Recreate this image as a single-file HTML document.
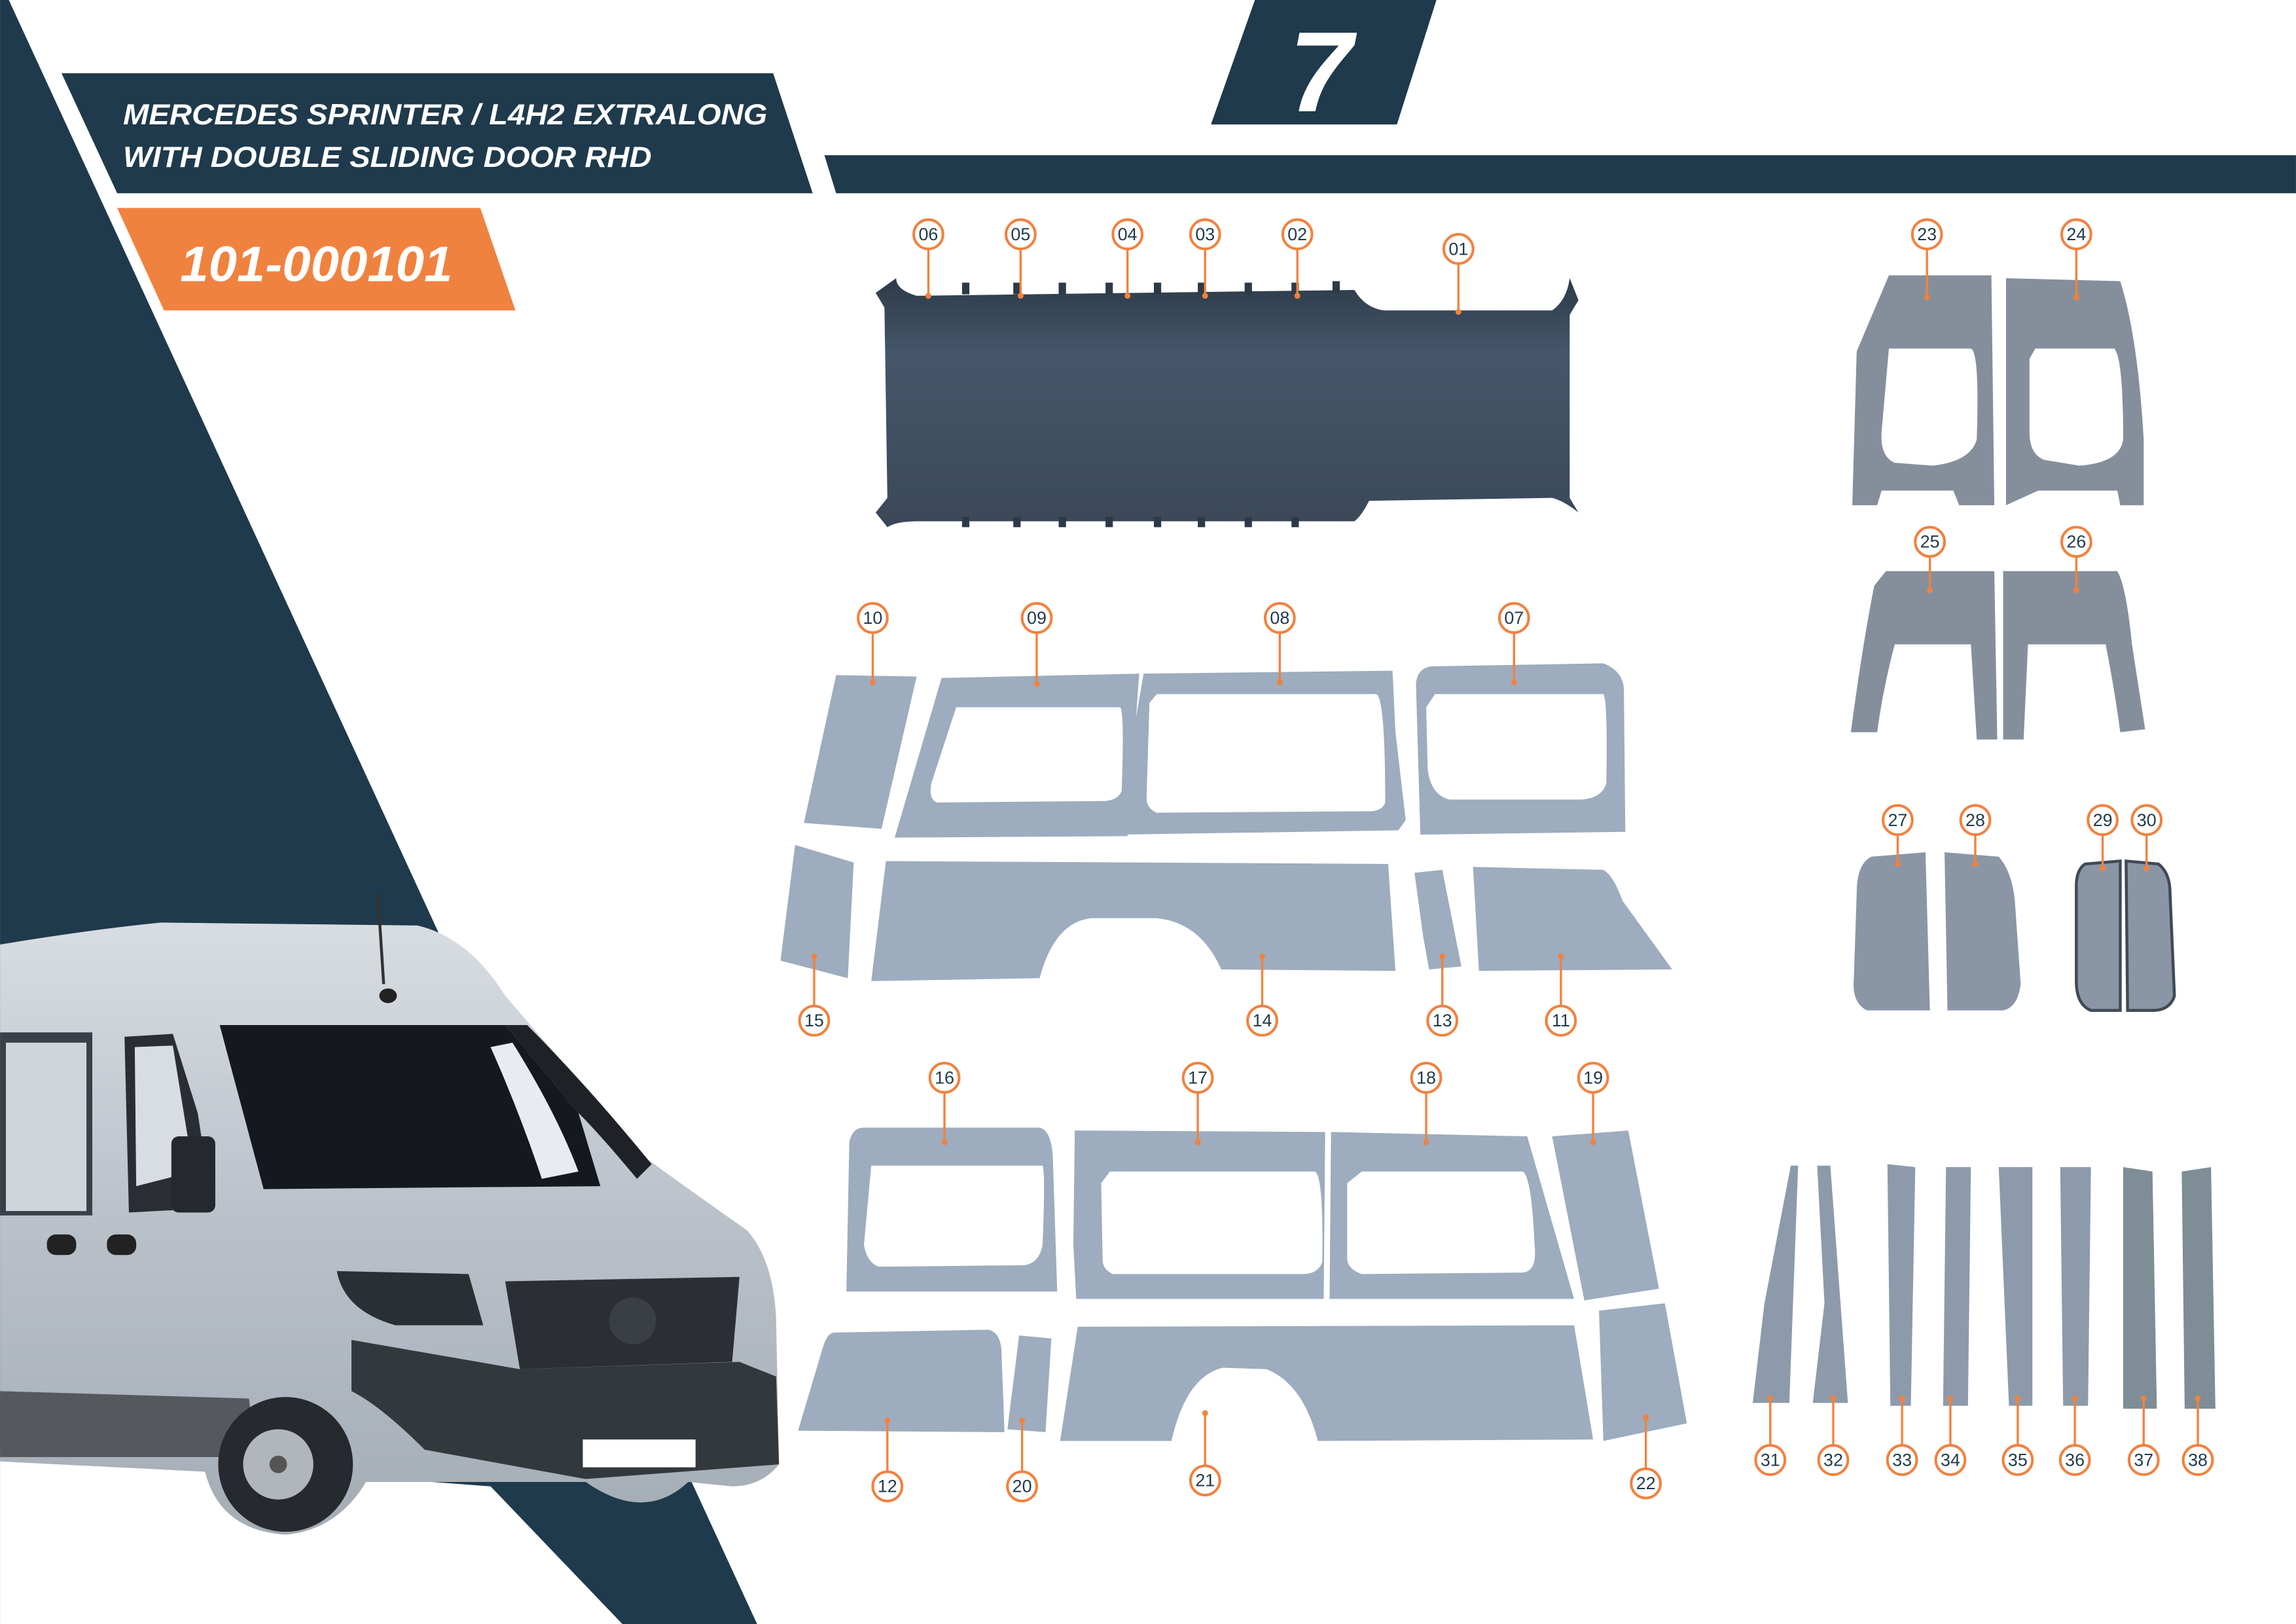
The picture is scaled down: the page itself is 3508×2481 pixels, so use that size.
<!DOCTYPE html>
<html><head><meta charset="utf-8"><style>
html,body{margin:0;padding:0;background:#fff;}
svg{display:block;}
</style></head><body>
<svg width="3508" height="2481" viewBox="0 0 1568 1109" xmlns="http://www.w3.org/2000/svg" font-family="'Liberation Sans', sans-serif">
<defs>
<linearGradient id="roof" x1="0" y1="0" x2="0" y2="1"><stop offset="0" stop-color="#2c3a48"/><stop offset="0.3" stop-color="#46566a"/><stop offset="1" stop-color="#3a4858"/></linearGradient>
<linearGradient id="silver" x1="0" y1="0" x2="0" y2="1"><stop offset="0" stop-color="#d8dde2"/><stop offset="0.5" stop-color="#b9c0c8"/><stop offset="1" stop-color="#a4acb5"/></linearGradient>
</defs>
<rect width="1568" height="1109" fill="#fff"/>
<polygon points="0,0 6,0 517,1109 0,1109" fill="#1f3a4c"/>
<polygon points="0,990 335,1015 425,1109 0,1109" fill="#fff"/>
<polygon points="42,50 528,50 555,132 80,132" fill="#1f3a4c"/>
<g fill="#fff" font-weight="bold" font-style="italic" font-size="20">
<text x="84" y="85" textLength="440" lengthAdjust="spacingAndGlyphs">MERCEDES SPRINTER / L4H2 EXTRALONG</text>
<text x="84" y="114" textLength="361" lengthAdjust="spacingAndGlyphs">WITH DOUBLE SLIDING DOOR RHD</text>
</g>
<polygon points="80,142 328,142 352,212 112,212" fill="#f08240"/>
<text x="123" y="192" fill="#fff" font-weight="bold" font-style="italic" font-size="34" textLength="186" lengthAdjust="spacingAndGlyphs">101-000101</text>
<polygon points="857,0 981,0 954,85 827,85" fill="#1f3a4c"/>
<text x="902" y="76" fill="#fff" font-weight="bold" font-style="italic" font-size="78" text-anchor="middle">7</text>
<polygon points="563,106 1568,106 1568,132 571,132" fill="#1f3a4c"/>

<path d="M612,190 Q612,198 626,202 L925,198 Q932,210 945,212 L1060,212 Q1070,205 1072,190 L1078,205 L1072,215 L1072,340 L1078,350 Q1068,342 1060,340 L935,342 Q930,352 925,356 L626,356 Q612,356 606,360 L598,350 L606,340 L604,210 L598,200 Z" fill="url(#roof)"/>
<g fill="#2c3a48">
<rect x="657" y="193" width="5" height="8"/><rect x="692" y="193" width="5" height="8"/><rect x="723" y="193" width="5" height="8"/><rect x="755" y="193" width="5" height="8"/><rect x="788" y="193" width="5" height="8"/><rect x="818" y="193" width="5" height="8"/><rect x="850" y="193" width="5" height="8"/><rect x="882" y="193" width="5" height="8"/><rect x="910" y="192" width="5" height="8"/>
<rect x="657" y="353" width="5" height="7"/><rect x="692" y="353" width="5" height="7"/><rect x="723" y="353" width="5" height="7"/><rect x="755" y="353" width="5" height="7"/><rect x="788" y="353" width="5" height="7"/><rect x="818" y="353" width="5" height="7"/><rect x="850" y="353" width="5" height="7"/><rect x="882" y="353" width="5" height="7"/>
</g>

<g fill="#858f9c">
<path fill-rule="evenodd" d="M1290,188 L1360,188 L1362,345 L1338,345 L1334,335 L1285,335 L1282,345 L1265,345 L1268,240 Z M1290,238 L1346,238 Q1352,240 1350,300 Q1346,315 1320,318 L1294,316 Q1284,312 1285,295 Z"/>
<path fill-rule="evenodd" d="M1370,190 L1448,192 Q1460,230 1464,300 L1464,345 L1448,345 L1446,335 L1392,335 L1370,345 Z M1390,238 L1444,238 Q1450,245 1450,300 Q1448,316 1420,318 L1396,314 Q1386,310 1386,295 L1386,245 Z"/>
<path fill-rule="evenodd" d="M1288,390 L1362,390 L1364,505 L1350,505 L1346,440 L1294,440 Q1286,470 1282,500 L1264,500 Q1272,440 1280,400 Z"/>
<path fill-rule="evenodd" d="M1368,390 L1446,390 Q1452,400 1456,440 L1465,498 L1448,500 Q1444,470 1438,440 L1385,440 L1382,505 L1368,505 Z"/>
</g>
<g fill="#8a96a6">
<path d="M1278,585 L1315,582 L1318,690 L1275,690 Q1265,685 1266,670 L1268,610 Q1268,590 1278,585 Z"/>
<path d="M1328,582 L1365,585 Q1374,595 1376,615 L1380,672 Q1378,688 1368,690 L1330,690 Z"/>
<path d="M1424,590 L1448,588 L1448,690 L1428,690 Q1418,686 1418,670 L1418,605 Q1418,594 1424,590 Z" stroke="#3f4a55" stroke-width="2"/>
<path d="M1452,588 L1474,590 Q1482,596 1482,610 L1485,680 Q1482,690 1470,690 L1453,690 Z" stroke="#3f4a55" stroke-width="2"/>
</g>

<g fill="#9dacbe" fill-rule="evenodd">
<polygon points="571,461 626,462 602,566 549,562"/>
<path d="M643,463 L778,460 L770,571 L611,572 Z M653,483 L765,483 Q768,486 766,540 Q764,546 755,547 L640,548 Q634,546 636,535 Z"/>
<path d="M781,460 L951,458 L953,500 L960,560 L955,567 L762,570 Z M790,474 L940,474 Q946,477 946,548 Q944,554 935,554 L790,555 Q783,552 783,545 L785,480 Z"/>
<path d="M978,455 L1095,453 Q1108,458 1109,470 L1110,568 L970,570 L967,467 Q968,456 978,455 Z M980,474 L1095,474 Q1098,478 1097,535 Q1094,545 1080,546 L990,546 Q977,543 975,525 L974,483 Z"/>
<polygon points="543,577 583,589 579,668 533,656"/>
<path d="M605,588 L948,590 L953,663 L834,662 Q820,630 790,627 L745,627 Q720,630 710,668 L595,670 Z"/>
<polygon points="966,596 985,594 998,660 976,662 972,640"/>
<path d="M1006,592 L1095,594 Q1102,598 1108,615 L1142,662 L1010,663 Z"/>
<path d="M590,770 L710,770 Q718,772 719,790 L722,882 L578,882 L580,780 Q582,770 590,770 Z M595,796 L712,796 Q714,800 712,850 Q710,862 700,864 L600,865 Q592,862 590,850 Z"/>
<path d="M734,772 L905,773 L904,887 L735,887 L733,850 Z M758,800 L898,800 Q904,803 903,862 Q900,870 890,870 L760,870 Q753,867 753,860 L752,808 Z"/>
<path d="M909,773 L1043,776 L1075,887 L908,887 Z M930,800 L1040,800 Q1046,804 1048,850 Q1050,868 1040,869 L930,870 Q921,867 920,860 L920,808 Z"/>
<polygon points="1060,776 1112,772 1133,880 1082,888"/>
<path d="M570,910 L675,908 Q684,910 684,925 L686,978 L545,977 L562,920 Q565,910 570,910 Z"/>
<polygon points="696,912 718,914 714,978 688,976"/>
<path d="M736,906 L1075,905 L1088,983 L900,984 Q890,945 865,935 L835,934 Q810,940 800,984 L724,984 Z"/>
<polygon points="1092,895 1137,890 1152,972 1095,984"/>
</g>
<g fill="#8d9aab">
<polygon points="1223,796 1228,796 1222,958 1197,958 1205,890"/>
<polygon points="1241,796 1250,796 1262,958 1238,958 1246,890"/>
<polygon points="1289,795 1308,797 1305,960 1291,960"/>
<polygon points="1329,797 1346,797 1344,960 1327,960"/>
<polygon points="1365,797 1388,797 1388,960 1372,960"/>
<polygon points="1407,797 1428,797 1426,960 1409,960"/>
<polygon points="1450,797 1470,800 1473,962 1450,962" fill="#7e8d96"/>
<polygon points="1490,800 1510,797 1513,962 1492,962" fill="#7e8d96"/>
</g>

<g>
<path d="M0,645 Q60,635 110,630 L285,632 Q320,640 345,680 L440,790 Q470,812 510,840 Q528,860 530,900 L532,1000 Q520,1015 500,1015 L470,1012 Q440,1040 400,1012 L250,1012 Q230,1045 195,1048 Q150,1045 140,1005 L0,998 Z" fill="url(#silver)"/>
<path d="M150,700 L345,700 L395,760 L410,810 L180,812 Z" fill="#15191d"/>
<path d="M345,700 L360,700 Q400,740 445,795 L435,805 Q410,775 395,760 Z" fill="#1e2226"/>
<path d="M335,715 L350,712 Q380,760 395,800 L370,805 Q355,760 335,715 Z" fill="#e8ecf0"/>
<rect x="0" y="705" width="63" height="125" fill="#3a4048"/>
<rect x="4" y="712" width="55" height="115" fill="#cfd5db"/>
<path d="M85,708 L118,706 L135,760 L145,825 L88,828 Z" fill="#2a2e33"/>
<path d="M92,715 L118,714 L132,800 L93,810 Z" fill="#d8dde2"/>
<rect x="117" y="776" width="30" height="52" rx="5" fill="#25292d"/>
<path d="M230,868 L320,870 L330,905 L270,905 Q235,895 230,868 Z" fill="#2a2f34"/>
<path d="M345,875 L505,872 L500,930 L355,935 Z" fill="#2b2f33"/>
<circle cx="432" cy="902" r="16" fill="#3a3f44"/>
<path d="M240,915 L355,935 L505,930 L530,940 L532,1000 L400,1010 L290,990 Q260,960 240,950 Z" fill="#33383d"/>
<rect x="398" y="983" width="77" height="19" fill="#fff"/>
<path d="M0,950 L170,955 L175,995 L0,995 Z" fill="#55595e"/>
<circle cx="195" cy="1000" r="46" fill="#262a2e"/>
<circle cx="190" cy="1000" r="24" fill="#b0b6bc"/>
<circle cx="190" cy="1000" r="6" fill="#555"/>
<line x1="258" y1="610" x2="262" y2="672" stroke="#333" stroke-width="2"/>
<ellipse cx="265" cy="680" rx="6" ry="5" fill="#222"/>
<rect x="32" y="843" width="20" height="14" rx="6" fill="#222"/>
<rect x="73" y="843" width="20" height="14" rx="6" fill="#222"/>
</g>

<g stroke="#f08240" stroke-width="1.5" fill="none">
<path d="M634,170V202M697,170V202M770,170V202M823,170V202M886,170V202M996,180V213M1316,170V203M1418,170V203M1318,380V403M1418,380V403M596,432V466M708,432V467M874,432V466M1034,432V466M556,687V653M862,687V653M985,687V653M1066,687V653M1296,570V590M1349,570V590M1436,570V593M1466,570V593M645,746V780M818,746V780M974,746V780M1088,746V780M606,1005V970M698,1005V970M823,1001V965M1124,1003V968M1209,987V955M1252,987V955M1299,987V955M1332,987V955M1378,987V955M1417,987V955M1464,987V955M1501,987V955"/>
</g>
<g fill="#f08240">
<circle cx="634" cy="202" r="2"/><circle cx="697" cy="202" r="2"/><circle cx="770" cy="202" r="2"/><circle cx="823" cy="202" r="2"/><circle cx="886" cy="202" r="2"/><circle cx="996" cy="213" r="2"/><circle cx="1316" cy="203" r="2"/><circle cx="1418" cy="203" r="2"/><circle cx="1318" cy="403" r="2"/><circle cx="1418" cy="403" r="2"/><circle cx="596" cy="466" r="2"/><circle cx="708" cy="467" r="2"/><circle cx="874" cy="466" r="2"/><circle cx="1034" cy="466" r="2"/><circle cx="556" cy="653" r="2"/><circle cx="862" cy="653" r="2"/><circle cx="985" cy="653" r="2"/><circle cx="1066" cy="653" r="2"/><circle cx="1296" cy="590" r="2"/><circle cx="1349" cy="590" r="2"/><circle cx="1436" cy="593" r="2"/><circle cx="1466" cy="593" r="2"/><circle cx="645" cy="780" r="2"/><circle cx="818" cy="780" r="2"/><circle cx="974" cy="780" r="2"/><circle cx="1088" cy="780" r="2"/><circle cx="606" cy="970" r="2"/><circle cx="698" cy="970" r="2"/><circle cx="823" cy="965" r="2"/><circle cx="1124" cy="968" r="2"/><circle cx="1209" cy="955" r="2"/><circle cx="1252" cy="955" r="2"/><circle cx="1299" cy="955" r="2"/><circle cx="1332" cy="955" r="2"/><circle cx="1378" cy="955" r="2"/><circle cx="1417" cy="955" r="2"/><circle cx="1464" cy="955" r="2"/><circle cx="1501" cy="955" r="2"/>
</g>
<g fill="#fff" stroke="#f08240" stroke-width="1.8">
<circle cx="634" cy="160" r="10"/><circle cx="697" cy="160" r="10"/><circle cx="770" cy="160" r="10"/><circle cx="823" cy="160" r="10"/><circle cx="886" cy="160" r="10"/><circle cx="996" cy="170" r="10"/><circle cx="1316" cy="160" r="10"/><circle cx="1418" cy="160" r="10"/><circle cx="1318" cy="370" r="10"/><circle cx="1418" cy="370" r="10"/><circle cx="596" cy="422" r="10"/><circle cx="708" cy="422" r="10"/><circle cx="874" cy="422" r="10"/><circle cx="1034" cy="422" r="10"/><circle cx="556" cy="697" r="10"/><circle cx="862" cy="697" r="10"/><circle cx="985" cy="697" r="10"/><circle cx="1066" cy="697" r="10"/><circle cx="1296" cy="560" r="10"/><circle cx="1349" cy="560" r="10"/><circle cx="1436" cy="560" r="10"/><circle cx="1466" cy="560" r="10"/><circle cx="645" cy="736" r="10"/><circle cx="818" cy="736" r="10"/><circle cx="974" cy="736" r="10"/><circle cx="1088" cy="736" r="10"/><circle cx="606" cy="1015" r="10"/><circle cx="698" cy="1015" r="10"/><circle cx="823" cy="1011" r="10"/><circle cx="1124" cy="1013" r="10"/><circle cx="1209" cy="997" r="10"/><circle cx="1252" cy="997" r="10"/><circle cx="1299" cy="997" r="10"/><circle cx="1332" cy="997" r="10"/><circle cx="1378" cy="997" r="10"/><circle cx="1417" cy="997" r="10"/><circle cx="1464" cy="997" r="10"/><circle cx="1501" cy="997" r="10"/>
</g>
<g fill="#1f3a4c" font-size="12" text-anchor="middle">
<text x="634" y="164">06</text><text x="697" y="164">05</text><text x="770" y="164">04</text><text x="823" y="164">03</text><text x="886" y="164">02</text><text x="996" y="174">01</text><text x="1316" y="164">23</text><text x="1418" y="164">24</text><text x="1318" y="374">25</text><text x="1418" y="374">26</text><text x="596" y="426">10</text><text x="708" y="426">09</text><text x="874" y="426">08</text><text x="1034" y="426">07</text><text x="556" y="701">15</text><text x="862" y="701">14</text><text x="985" y="701">13</text><text x="1066" y="701">11</text><text x="1296" y="564">27</text><text x="1349" y="564">28</text><text x="1436" y="564">29</text><text x="1466" y="564">30</text><text x="645" y="740">16</text><text x="818" y="740">17</text><text x="974" y="740">18</text><text x="1088" y="740">19</text><text x="606" y="1019">12</text><text x="698" y="1019">20</text><text x="823" y="1015">21</text><text x="1124" y="1017">22</text><text x="1209" y="1001">31</text><text x="1252" y="1001">32</text><text x="1299" y="1001">33</text><text x="1332" y="1001">34</text><text x="1378" y="1001">35</text><text x="1417" y="1001">36</text><text x="1464" y="1001">37</text><text x="1501" y="1001">38</text>
</g>
</svg>
</body></html>
